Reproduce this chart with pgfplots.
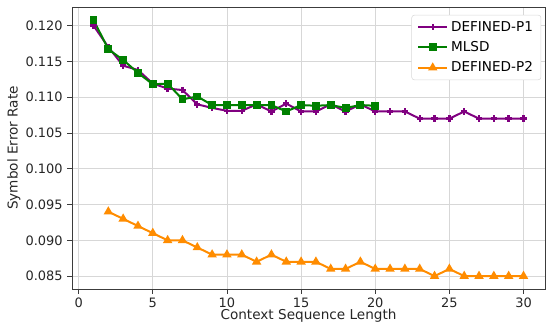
\documentclass[border=0pt]{standalone}
\usepackage{pgfplots}
\pgfplotsset{compat=1.18}
\usepackage{fontspec}
\setmainfont{DejaVu Sans}
\definecolor{cpurple}{RGB}{128,0,128}
\definecolor{cgreen}{RGB}{0,128,0}
\definecolor{corange}{RGB}{255,140,0}
\definecolor{cgrid}{RGB}{215,215,215}
\definecolor{cframe}{RGB}{60,60,60}
\begin{document}
\begin{tikzpicture}
\begin{axis}[
  name=ax,
  scale only axis,
  width=354.75pt, height=211.5pt,
  xmin=-0.45, xmax=31.45,
  ymin=0.0832, ymax=0.1226,
  xtick={0,5,10,15,20,25,30},
  ytick={0.085,0.090,0.095,0.100,0.105,0.110,0.115,0.120},
  scaled y ticks=false,
  yticklabel style={/pgf/number format/.cd, fixed, fixed zerofill, precision=3},
  /pgf/number format/assume math mode=true,
  tick label style={font=\fontsize{9.7}{11}\selectfont, text=black!85},
  label style={font=\fontsize{10.2}{12}\selectfont, text=black!85},
  xlabel={Context Sequence Length},
  ylabel={Symbol Error Rate},
  xlabel style={yshift=6pt},
  ylabel style={yshift=-3pt},
  grid=major,
  grid style={cgrid, line width=0.6pt},
  axis line style={cframe, line width=0.6pt},
  tick align=outside,
  tick style={cframe, line width=0.6pt},
  major tick length=3.5pt,
  xtick pos=bottom, ytick pos=left,
  legend cell align=left,
  legend style={font=\fontsize{10.2}{12}\selectfont, draw=black!15, rounded corners=2pt, at={(0.992,0.972)}, anchor=north east, inner xsep=4pt, inner ysep=2.5pt, row sep=2.2pt},
  legend image code/.code={\draw[mark repeat=2, mark phase=2, #1] plot coordinates {(0pt,0pt) (11pt,0pt) (22pt,0pt)};},
]
\addplot[cpurple, line width=1.5pt, mark=+, mark size=2.4pt, mark options={line width=1.8pt}] coordinates {
(1,0.1200) (2,0.1170) (3,0.1144) (4,0.1138) (5,0.1119) (6,0.1112) (7,0.1110) (8,0.1090) (9,0.1085) (10,0.1081)
(11,0.1081) (12,0.1090) (13,0.1080) (14,0.1091) (15,0.1080) (16,0.1080) (17,0.1090) (18,0.1080) (19,0.1090) (20,0.1080)
(21,0.1080) (22,0.1080) (23,0.1070) (24,0.1070) (25,0.1070) (26,0.1080) (27,0.1070) (28,0.1070) (29,0.1070) (30,0.1070)
};
\addlegendentry{DEFINED-P1}
\addplot[cgreen, line width=1.5pt, mark=square*, mark size=2.2pt, mark options={solid}] coordinates {
(1,0.1208) (2,0.1167) (3,0.1152) (4,0.1134) (5,0.1118) (6,0.1119) (7,0.1097) (8,0.1101) (9,0.1089) (10,0.1089)
(11,0.1089) (12,0.1089) (13,0.1089) (14,0.1080) (15,0.1089) (16,0.1088) (17,0.1089) (18,0.1085) (19,0.1089) (20,0.1088)
};
\addlegendentry{MLSD}
\addplot[corange, line width=1.5pt, mark=triangle*, mark size=2.6pt] coordinates {
(2,0.094) (3,0.093) (4,0.092) (5,0.091) (6,0.090) (7,0.090) (8,0.089) (9,0.088) (10,0.088) (11,0.088)
(12,0.087) (13,0.088) (14,0.087) (15,0.087) (16,0.087) (17,0.086) (18,0.086) (19,0.087) (20,0.086) (21,0.086)
(22,0.086) (23,0.086) (24,0.085) (25,0.086) (26,0.085) (27,0.085) (28,0.085) (29,0.085) (30,0.085)
};
\addlegendentry{DEFINED-P2}
\end{axis}
\pgfresetboundingbox
\path ([xshift=-54pt,yshift=-26.25pt]ax.south west) rectangle ([xshift=0.75pt,yshift=5.25pt]ax.north east);
\end{tikzpicture}
\end{document}
